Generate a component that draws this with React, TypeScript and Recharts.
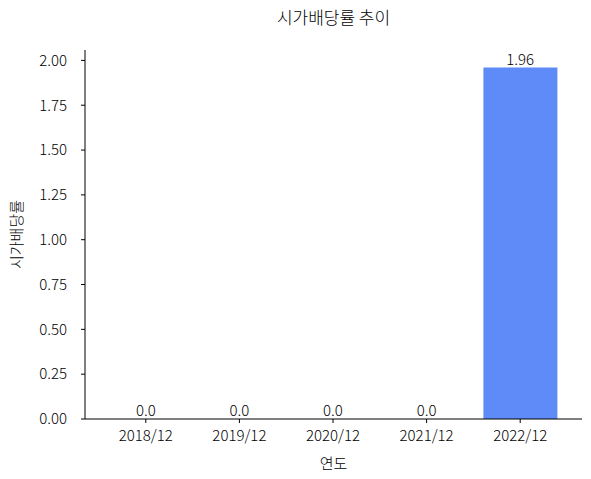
import React from 'react';
import { ComposedChart, Bar, Line, XAxis, YAxis, LabelList, Label } from 'recharts';

const years = ['2018/12', '2019/12', '2020/12', '2021/12', '2022/12'];
const yields = [0, 0, 0, 0, 1.96];
const yTicks = [0, 0.25, 0.5, 0.75, 1.0, 1.25, 1.5, 1.75, 2.0];

const data = years.map((y, i) => ({ year: y, value: yields[i] }));
const FONT = '"Noto Sans CJK KR", "Noto Sans", sans-serif';
const TXT = '#000';
const FW = 300;
const FS = 15;

export default function App() {
  return (
    <div style={{ position: 'relative', width: 591, height: 479, fontFamily: FONT, background: '#fff' }}>
      <style>{`body{margin:0}`}</style>
      <div style={{ position: 'absolute', left: 85, width: 497, top: 4, textAlign: 'center', fontSize: 17, fontWeight: FW, color: TXT, lineHeight: '26px' }}>
        시가배당률 추이
      </div>
      <ComposedChart width={591} height={479} data={data} margin={{ top: 50, right: 9, bottom: 0, left: 0 }} barSize={74}>
        <XAxis
          dataKey="year"
          height={60}
          padding={{ left: 14, right: 15 }}
          axisLine={{ stroke: '#000' }}
          tickLine={{ stroke: '#000' }}
          tickSize={4}
          tickMargin={7}
          tick={{ fill: TXT, fontSize: FS, fontWeight: FW, fontFamily: FONT }}
        >
          <Label value="연도" position="insideBottom" offset={10} style={{ fill: TXT, fontSize: FS, fontWeight: FW, fontFamily: FONT }} />
        </XAxis>
        <YAxis
          width={85}
          domain={[0, 2.058]}
          ticks={yTicks}
          allowDataOverflow
          tickFormatter={(v: number) => v.toFixed(2)}
          axisLine={{ stroke: '#000' }}
          tickLine={{ stroke: '#000' }}
          tickSize={4}
          tickMargin={14}
          tick={{ fill: TXT, fontSize: FS, fontWeight: FW, fontFamily: FONT }}
        >
          <Label value="시가배당률" angle={-90} position="insideLeft" offset={17} style={{ fill: TXT, fontSize: FS, fontWeight: FW, fontFamily: FONT, textAnchor: 'middle' }} />
        </YAxis>
        <Bar dataKey="value" fill="#5f8bf8" isAnimationActive={false} />
        <Line dataKey="value" stroke="none" dot={false} activeDot={false} isAnimationActive={false}>
          <LabelList
            dataKey="value"
            position="top"
            offset={3}
            formatter={(v: number) => (v === 0 ? '0.0' : String(v))}
            style={{ fill: TXT, fontSize: FS, fontWeight: FW, fontFamily: FONT }}
          />
        </Line>
      </ComposedChart>
    </div>
  );
}
